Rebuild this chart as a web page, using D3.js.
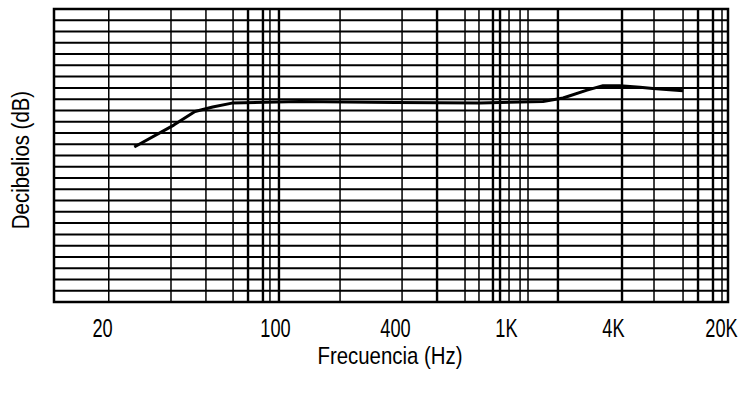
<!DOCTYPE html>
<html>
<head>
<meta charset="utf-8">
<script src="https://cdn.jsdelivr.net/npm/d3@7"></script>
<style>
  body { margin: 0; background: #fff; }
  text { font-family: "Liberation Sans", Arial, sans-serif; fill: #000; }
</style>
</head>
<body>
<div id="chart"></div>
<script>
// tick labels on the frequency axis
const tickFreqs = [20, 100, 400, 1000, 4000, 20000];
const tickLabels = ['20', '100', '400', '1K', '4K', '20K'];

// vertical grid lines of the log paper (Hz)
const gridFreqs = [21.3, 38, 52.6, 67.7, 77.8, 89.4, 95.4, 104.7, 212, 424, 566, 713, 800, 898, 952,
  1040, 1200, 1330, 1960, 4575, 7370, 11360, 14200, 17750, 20300];
// the heavier ones
const heavyFreqs = [77.8, 89.4, 104.7, 566, 898, 952, 1960, 4575, 14200, 17750];

// response curve
const curveFreqs = [27, 39, 47.5, 56, 67, 133, 400, 807, 1615, 2094, 2857, 3515, 4440, 5980, 7260, 11360];
const curveDb = [-4.25, -2.3, -1.1, -0.7, -0.35, -0.2, -0.3, -0.35, -0.2, 0.1, 0.8, 1.2, 1.2, 1.05, 0.95, 0.75];

// horizontal grid: 1 dB steps
const dbMin = -18, dbMax = 8;

const W = 744, H = 397;
const margin = { top: 9, right: 16, bottom: 95, left: 54 };
const plotW = W - margin.left - margin.right;
const plotH = H - margin.top - margin.bottom;

const svg = d3.select('#chart').append('svg')
  .attr('width', W)
  .attr('height', H);

const g = svg.append('g')
  .attr('transform', `translate(${margin.left},${margin.top})`);

// the paper is not a true log grid, so the log scale is piecewise
const x = d3.scaleLog()
  .domain([12.8, 20, 100, 400, 1000, 4000, 20000, 22200])
  .range([0, 48, 221, 341, 452, 559, 667, plotW]);

const y = d3.scaleLinear()
  .domain([dbMin, dbMax])
  .range([plotH, 0]);

// horizontal grid
g.append('g')
  .selectAll('line')
  .data(d3.range(dbMin + 1, dbMax))
  .enter().append('line')
  .attr('x1', 0)
  .attr('x2', plotW)
  .attr('y1', d => y(d))
  .attr('y2', d => y(d))
  .attr('stroke', '#000')
  .attr('stroke-width', 2);

// vertical grid
g.append('g')
  .selectAll('line')
  .data(gridFreqs)
  .enter().append('line')
  .attr('x1', d => x(d))
  .attr('x2', d => x(d))
  .attr('y1', 0)
  .attr('y2', plotH)
  .attr('stroke', '#000')
  .attr('stroke-width', d => heavyFreqs.includes(d) ? 2.4 : 1.5);

// frame
g.append('rect')
  .attr('width', plotW)
  .attr('height', plotH)
  .attr('fill', 'none')
  .attr('stroke', '#000')
  .attr('stroke-width', 2.5);

// curve
const line = d3.line()
  .x((d, i) => x(curveFreqs[i]))
  .y(d => y(d));

g.append('path')
  .datum(curveDb)
  .attr('fill', 'none')
  .attr('stroke', '#000')
  .attr('stroke-width', 3)
  .attr('stroke-linejoin', 'round')
  .attr('d', line);

// x axis labels (condensed look)
const xAxis = d3.axisBottom(x)
  .tickValues(tickFreqs)
  .tickFormat((d, i) => tickLabels[i])
  .tickSize(0)
  .tickPadding(17);

const ax = g.append('g')
  .attr('transform', `translate(0,${plotH})`)
  .call(xAxis);
ax.select('.domain').remove();
ax.selectAll('text')
  .style('font-size', '26px')
  .attr('transform', 'scale(0.7,1)')
  .attr('fill', '#000');

// axis titles
svg.append('text')
  .attr('transform', 'translate(390,364) scale(0.85,1)')
  .attr('text-anchor', 'middle')
  .style('font-size', '24px')
  .text('Frecuencia (Hz)');

svg.append('text')
  .attr('transform', 'translate(29,160) rotate(-90) scale(0.85,1)')
  .attr('text-anchor', 'middle')
  .style('font-size', '24px')
  .text('Decibelios (dB)');
</script>
</body>
</html>
